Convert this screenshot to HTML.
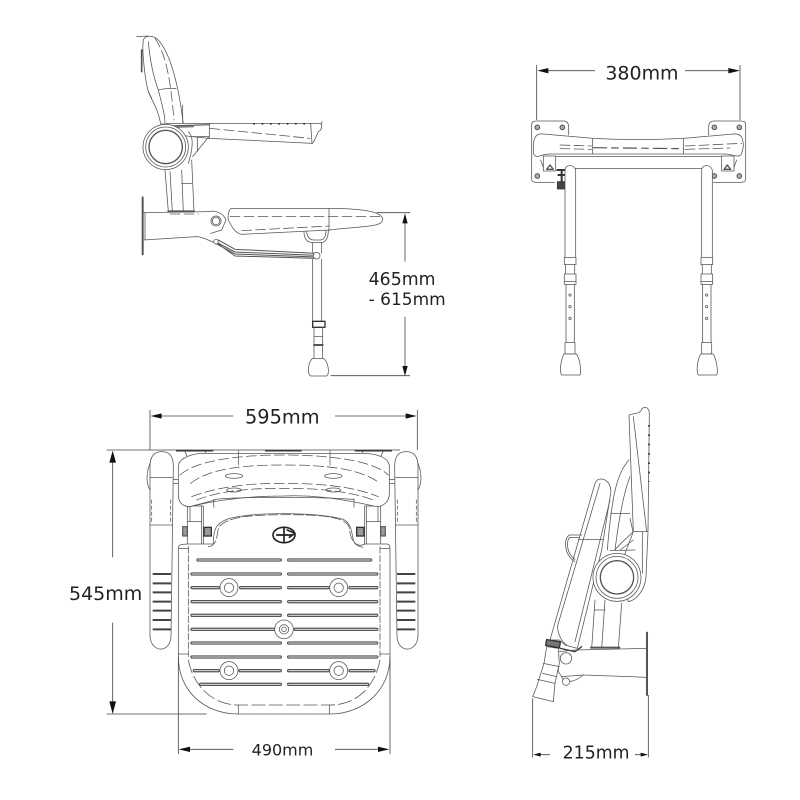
<!DOCTYPE html>
<html><head><meta charset="utf-8"><style>
html,body{margin:0;padding:0;background:#fff;width:800px;height:800px;overflow:hidden}
svg{display:block}
text{font-family:"DejaVu Sans","Liberation Sans",sans-serif;fill:#222;stroke:none}
.l{fill:none;stroke:#555;stroke-width:2.3;stroke-linejoin:round;stroke-linecap:round}
.w{fill:#fff}
.d{stroke-dasharray:30 12}
.m{fill:none;stroke:#444;stroke-width:2.4}
.a{fill:#111;stroke:none}
</style></head><body>
<svg width="800" height="800" viewBox="0 0 800 800" xmlns="http://www.w3.org/2000/svg">
<rect width="800" height="800" fill="#fff"/>

<!-- TOP LEFT -->
<g transform="translate(120,20) scale(.33333)">
<g class="l">
<path d="M50,50 L85,48"/>
<path class="w" d="M70,60 C75,45 100,45 115,60 C150,100 175,190 190,312 L122,312 C115,270 100,250 85,215 C75,180 65,90 70,60Z"/>
<path d="M85,65 C90,120 100,170 115,210 C130,205 150,205 168,205"/>
<path class="d" d="M105,55 C135,100 150,160 162,300"/>
<path d="M115,210 C125,250 135,285 135,310"/>
<path d="M65,90 L65,155" stroke-width="5"/>
<path d="M85,215 L95,235"/>
<path d="M188,255 L188,310"/>
<path class="w" d="M140,310 L600,310 C610,315 605,330 595,335 C590,345 585,360 578,370 L268,355 L215,350 L140,340Z"/>
<path d="M572,310 L576,370"/>
<path class="d" d="M270,325 L570,355"/>
<path d="M150,318 L268,314 M150,322 L220,320" stroke-width="3.5"/>
<path d="M268,310 L268,355"/>
<path d="M135,450 L145,575 M215,420 L222,575 M150,455 L157,575 M185,450 L190,575 M185,490 L215,490"/>
<path d="M145,574 L222,574" stroke-width="6"/>
<circle class="w" cx="137" cy="381" r="68"/>
<circle cx="137" cy="381" r="60"/>
<circle cx="137" cy="381" r="50" stroke-width="4"/>
<path d="M215,350 L268,350 M218,410 L265,352 M232,395 L232,352 M205,335 C215,345 225,365 205,430"/>
<path d="M68,532 L68,703" stroke-width="6"/>
<path d="M68,578 L75,578 L265,575 M70,660 L230,650 C250,650 270,665 290,670 M75,578 L75,660"/>
<path d="M150,582 L235,582" class="d" />
<path d="M265,575 C285,570 310,578 318,600 L305,630 L272,640"/>
<circle class="w" cx="288" cy="603" r="15"/><circle cx="288" cy="603" r="11"/>
<path class="w" d="M335,565 L620,565 C700,565 790,570 788,600 C785,620 740,618 628,630 L365,643 C345,640 335,620 325,600 C322,580 330,565 335,565Z"/>
<path class="d" d="M330,590 L780,590"/>
<path class="d" d="M365,632 L628,618"/>
<path d="M627,565 L627,632"/>
<path d="M552,635 C552,660 565,668 580,668 L605,668 C620,665 625,650 625,630 M560,635 C562,652 570,660 582,660 L602,660 C615,658 618,645 618,632"/>
<path d="M285,665 L345,708 L590,715 M295,660 L345,688 L590,700 M292,668 L345,696 L590,706 M290,672 L345,702 L590,711" stroke-width="3"/>
<circle class="w" cx="590" cy="707" r="10"/><circle class="w" cx="288" cy="665" r="7"/>
<path d="M578,668 L578,700 M605,668 L605,700 M578,717 L578,904 M605,717 L605,904"/>
<rect class="w" x="578" y="904" width="37" height="18" stroke="#333" stroke-width="4"/>
<path d="M582,922 L582,1015 M608,922 L608,1015 M582,950 L608,950"/>
<path d="M582,975 L608,975" stroke-width="6"/>
<path class="w" d="M578,1015 L610,1015 C625,1025 630,1060 620,1068 L572,1068 C560,1060 565,1025 578,1015Z"/>
<path d="M605,312 L606,305"/>
</g>
<path d="M400,312 H560" stroke="#222" stroke-width="4" stroke-dasharray="5 20"/>
<g class="m"><path d="M770,578 L870,578 M632,1067 L870,1067 M855,600 L855,725 M855,890 L855,1045"/></g>
<polygon class="a" points="855,580 847,610 863,610"/><polygon class="a" points="855,1068 847,1038 863,1038"/>
<text x="746" y="795" font-size="52">465mm</text>
<text x="746" y="855" font-size="51">- 615mm</text>
</g>

<!-- TOP RIGHT -->
<g transform="translate(510,50) scale(.33333)">
<defs>
<g id="leg">
<path class="l w" d="M165,622 L165,360 C165,345 190,340 197,360 L197,622"/>
<rect class="l w" x="163" y="622" width="35" height="22" stroke="#222" stroke-width="4"/>
<path class="l" d="M167,644 L167,672 M194,644 L194,672"/>
<rect class="l w" x="163" y="672" width="35" height="31"/>
<path class="l" d="M163,695 L198,695"/>
<path class="l" d="M168,703 L168,878 M193,703 L193,878"/>
<circle class="l" cx="180" cy="735" r="3.5"/><circle class="l" cx="180" cy="770" r="3.5"/><circle class="l" cx="180" cy="805" r="3.5"/>
<rect class="l w" x="165" y="878" width="30" height="34"/>
<path class="l w" d="M162,912 L200,912 C210,930 215,965 210,975 L155,975 C148,965 152,930 162,912Z"/>
</g>
</defs>
<g class="l">
<path d="M65,225 C65,215 70,213 80,213 L160,213 C172,213 176,220 176,232 L176,255 M65,225 L65,385 C65,395 70,397 80,397 L135,397"/>
<path d="M707,225 C707,215 702,213 692,213 L612,213 C600,213 596,220 596,232 L596,255 M707,225 L707,385 C707,395 702,397 692,397 L610,397"/>
<path class="w" d="M70,290 C70,260 80,250 100,252 L250,265 Q385,272 520,265 L670,252 C695,250 700,265 700,290 L695,310 C690,325 670,315 650,312 L120,312 C90,312 80,330 70,310Z"/>
<path d="M248,265 L248,312 M520,265 L520,312"/>
<path class="d" d="M150,285 L245,288 M525,288 L695,280"/>
<path class="d" d="M150,296 L245,298 M525,298 L660,294"/>
<path d="M250,293 L520,296" stroke-dasharray="40 15 20 15" stroke-width="3.5"/>
<path d="M135,320 L640,320 M195,355 L575,355 M135,320 L135,345"/>
<rect class="w" x="100" y="318" width="37" height="45"/><rect class="w" x="635" y="318" width="37" height="45"/>
<path d="M110,358 L120,345 L130,358Z M642,358 L652,345 L662,358Z" stroke-width="4"/>
<path d="M92,330 L100,352 M680,330 L672,352"/>
<path d="M142,360 L165,360 M145,375 L165,375" stroke-width="6" stroke="#333"/>
<rect x="142" y="395" width="22" height="22" fill="#444" stroke="#333"/>
<path d="M155,360 L155,395" stroke-width="6" stroke="#333"/>
</g>
<g fill="#aaa" stroke="#555" stroke-width="3">
<circle cx="82" cy="232" r="7"/><circle cx="157" cy="232" r="7"/><circle cx="82" cy="378" r="7"/>
<circle cx="613" cy="232" r="7"/><circle cx="688" cy="232" r="7"/><circle cx="613" cy="378" r="7"/><circle cx="688" cy="378" r="7"/>
</g>
<use href="#leg"/>
<use href="#leg" transform="translate(410,0)"/>
<g class="m"><path d="M80,45 L80,210 M690,45 L690,210 M100,62 L255,62 M525,62 L670,62"/></g>
<polygon class="a" points="82,62 115,54 115,70"/><polygon class="a" points="690,62 655,54 655,70"/>
<text x="286" y="88" font-size="57">380mm</text>
</g>

<!-- BOTTOM LEFT -->
<g transform="translate(100,400) scale(.33333)">
<defs>
<g id="half">
<path class="l w" d="M150,200 C150,165 165,155 185,155 C210,155 220,170 220,200 L213,710 C210,760 155,760 150,710Z"/>
<path class="l" d="M150,375 L217,375 M150,232 L218,232 M220,238 L235,238 M220,250 L235,250"/>
<path class="l" d="M150,190 C138,220 138,250 150,270"/>
<path class="l" d="M155,300 L155,370 M212,300 L212,370" stroke-dasharray="10 8"/>
<path d="M158,522 H213 M158,550 H213 M158,577 H213 M158,605 H213 M158,632 H213 M158,660 H213 M158,688 H213" stroke="#444" stroke-width="6" fill="none"/>
<path d="M228,152 H340 " stroke="#333" stroke-width="5" fill="none"/>
<path class="l" d="M255,155 L262,170 M318,155 L310,165"/>
<rect class="l w" x="262" y="318" width="48" height="115"/>
<path class="l" d="M270,318 L270,365 M305,318 L305,432 M262,365 L305,365"/>
<rect x="248" y="380" width="14" height="28" fill="#999" stroke="#444" stroke-width="3"/>
<rect x="312" y="382" width="22" height="26" fill="#999" stroke="#333" stroke-width="4"/>
</g>
</defs>
<use href="#half"/>
<use href="#half" transform="matrix(-1 0 0 1 1104 0)"/>
<g class="l">
<path class="w" d="M235,200 C235,180 260,165 300,160 L800,160 C850,165 868,180 868,200 L868,280 C868,305 850,320 830,320 C700,290 620,285 550,288 C450,288 350,300 270,320 C240,320 235,300 235,280Z"/>
<path class="d" d="M272,250 C330,205 430,195 550,195 C680,195 780,205 840,250"/>
<path class="d" d="M240,225 C290,180 420,165 550,165 C680,165 820,180 865,225"/>
<path class="d" d="M275,290 C360,258 450,250 550,250 C650,250 760,258 835,290"/>
<path class="d" d="M290,300 C370,268 470,265 550,265 C640,265 740,270 820,300"/>
<path d="M345,298 C430,290 650,290 760,298 M340,298 L342,322 M762,296 L762,322 M270,320 L345,300"/>
<path d="M415,152 L415,195 M690,152 L690,195"/>
<ellipse cx="402" cy="228" rx="26" ry="7"/><ellipse cx="700" cy="228" rx="26" ry="7"/>
<ellipse cx="402" cy="270" rx="22" ry="6"/><ellipse cx="700" cy="270" rx="22" ry="6"/>
<path class="w" d="M235,445 C235,435 240,432 265,432 L340,432 L340,430 C340,385 350,370 380,358 C450,335 650,335 730,358 C755,370 755,400 760,420 C765,435 780,440 795,432 L860,432 C868,432 870,438 870,445 L870,770 C870,870 790,942 690,942 L415,942 C310,942 235,870 235,770Z"/>
<path d="M325,440 C345,440 350,420 355,385 C365,365 400,355 430,350 C500,342 640,342 680,350 C720,355 745,365 748,385 C752,420 765,442 795,442" stroke-dasharray="30 8"/>
<path d="M265,440 L265,770 M840,440 L840,770" stroke-dasharray="20 6"/>
<path d="M235,762 L265,762 M840,762 L870,762 M235,445 L265,445 M840,445 L870,445"/>
<path d="M265,780 C280,860 340,915 415,915 L690,915 C770,915 825,860 840,780" stroke-dasharray="40 12"/>
<path d="M415,915 L415,942 M688,915 L688,942"/>
<ellipse cx="552" cy="405" rx="33" ry="23" stroke="#222" stroke-width="5"/>
<path d="M552,383 L552,428 M530,405 L574,405 M562,390 L585,400 L568,412" stroke="#222" stroke-width="5"/>
</g>
<path d="M495,152 H605" stroke="#333" stroke-width="5"/>
<g id="slots" fill="none" stroke-linecap="round">
<path stroke="#555" stroke-width="10" d="M294,480H541 M276,522H541 M276,563H355 M422,563H541 M276,605H541 M276,646H541 M276,688H525 M276,729H541 M276,771H541 M283,812H355 M420,812H541 M302,853H541 M566,480H812 M566,522H830 M566,563H685 M750,563H830 M566,605H830 M566,646H830 M586,688H830 M566,729H830 M566,771H830 M566,812H685 M750,812H822 M566,853H803"/>
<path stroke="#ddd" stroke-width="3" d="M294,480H541 M276,522H541 M276,563H355 M422,563H541 M276,605H541 M276,646H541 M276,688H525 M276,729H541 M276,771H541 M283,812H355 M420,812H541 M302,853H541 M566,480H812 M566,522H830 M566,563H685 M750,563H830 M566,605H830 M566,646H830 M586,688H830 M566,729H830 M566,771H830 M566,812H685 M750,812H822 M566,853H803"/>
</g>
<g class="l">
<circle class="w" cx="387" cy="563" r="27"/><circle cx="387" cy="563" r="14"/>
<circle class="w" cx="716" cy="563" r="27"/><circle cx="716" cy="563" r="14"/>
<circle class="w" cx="387" cy="812" r="27"/><circle cx="387" cy="812" r="14"/>
<circle class="w" cx="716" cy="812" r="27"/><circle cx="716" cy="812" r="14"/>
<circle class="w" cx="552" cy="688" r="28"/><circle cx="552" cy="688" r="14"/><circle cx="552" cy="688" r="7"/>
</g>
<g class="m">
<path d="M150,30 L150,150 M952,30 L952,150 M180,48 L400,48 M705,48 L925,48"/>
<path d="M20,150 L900,150 M20,942 L320,942 M38,180 L38,472 M38,668 L38,910"/>
<path d="M235,770 L235,1062 M870,770 L870,1062 M265,1048 L400,1048 M705,1048 L840,1048"/>
</g>
<polygon class="a" points="152,48 185,40 185,56"/><polygon class="a" points="950,48 917,40 917,56"/>
<polygon class="a" points="38,152 28,188 48,188"/><polygon class="a" points="38,942 28,904 48,904"/>
<polygon class="a" points="236,1048 270,1040 270,1056"/><polygon class="a" points="868,1048 834,1040 834,1056"/>
<text x="435" y="70" font-size="58">595mm</text>
<text x="455" y="1066" font-size="48">490mm</text>
<text x="-93" y="600" font-size="57">545mm</text>
</g>

<!-- BOTTOM RIGHT -->
<g transform="translate(520,400) scale(.33333)">
<g class="l">
<path d="M327,180 C290,220 275,290 262,450 M330,230 C310,280 295,370 285,450 M272,340 L330,340 M330,355 L340,400"/>
<path class="w" d="M327,45 C340,40 360,42 365,28 C375,15 388,25 388,40 L384,395 L378,530 C375,570 350,600 325,605 L300,500 L340,395 Z"/>
<path d="M340,50 L380,395 M340,395 L384,395 M367,395 L367,520"/>
<path d="M285,450 C300,430 320,415 340,395 M300,450 L340,420 M270,452 L345,450"/>
<path d="M225,600 L215,745 M255,600 L245,745 M305,610 L295,745 M225,630 L255,630"/>
<path d="M213,743 L298,743" stroke-width="6"/>
<path d="M381,698 L381,885" stroke-width="6"/>
<path d="M118,755 L165,750 L381,745 M190,825 L381,832 M115,815 L125,830 L190,825 M115,760 L115,815"/>
<path d="M125,830 C130,850 160,850 190,825"/>
<circle class="w" cx="138" cy="775" r="17"/>
<circle class="w" cx="138" cy="845" r="11"/>
<path class="w" d="M240,237 C260,235 275,255 272,280 L245,450 L172,745 L135,735 L118,720 L90,720 L225,250 C230,240 235,237 240,237Z"/>
<path d="M240,250 L112,680 C115,705 125,725 140,735 M270,300 L165,725 M175,418 L250,418"/>
<path d="M185,405 L150,405 C130,410 130,465 165,485 M178,412 L150,412 C138,420 138,460 165,478"/>
<circle class="w" cx="291" cy="532" r="72"/>
<circle cx="291" cy="532" r="63"/>
<circle cx="291" cy="532" r="50" stroke-width="4"/>
<path class="w" d="M80,740 L72,790 L50,860 L38,890 L100,905 L105,850 L118,790 L115,745Z"/>
<path d="M70,790 L118,800 M68,820 L110,830 M52,838 L105,850"/>
<rect x="78" y="722" width="42" height="18" fill="#777" stroke="#333" stroke-width="4" transform="rotate(10 99 731)"/>
<path d="M120,745 L165,755 L185,740" stroke-width="4" stroke="#444"/>
</g>
<path d="M387,75 V245" stroke="#222" stroke-width="5" stroke-dasharray="5 23"/>
<g class="m"><path d="M38,895 L38,1072 M385,885 L385,1072 M60,1064 L90,1064 M345,1064 L365,1064"/></g>
<polygon class="a" points="40,1064 62,1058 62,1070"/><polygon class="a" points="384,1064 362,1058 362,1070"/>
<text x="128" y="1076" font-size="52">215mm</text>
</g>
</svg>
</body></html>
